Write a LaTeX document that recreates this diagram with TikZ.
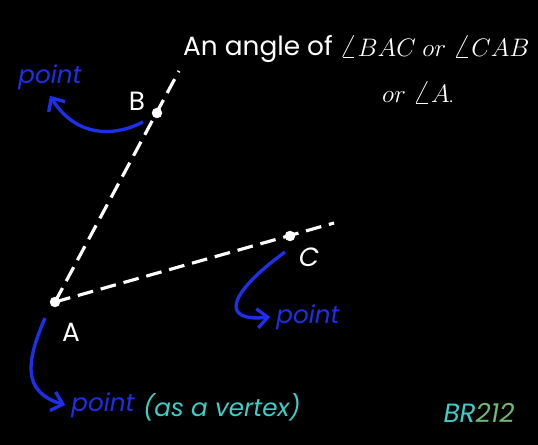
\documentclass[tikz,border=0pt]{standalone}
\usepackage{fontspec}
\setmainfont{Poppins}
\usetikzlibrary{arrows.meta}
\definecolor{pblue}{RGB}{28,48,235}
\definecolor{vcyan}{RGB}{62,205,200}
\definecolor{brgreen}{RGB}{112,186,112}
\newcommand{\bigang}{\raisebox{-0.05ex}{\scalebox{1.35}{$\angle$}}}
\begin{document}
\begin{tikzpicture}[x=0.02cm,y=-0.02cm]
      \fill[black] (0,0) rectangle (538,445);
      \tikzstyle{dot} = [draw=white, fill=white, circle, inner sep=0pt, minimum size=5.5pt]
      \tikzstyle{ray} = [white, line width=1.8pt, dash pattern=on 9pt off 4.5pt]
      \tikzstyle{pointer} = [pblue, line width=1.9pt, -{Straight Barb[length=6pt,width=11pt]}]
      \tikzstyle{lbl} = [white, font=\fontsize{15}{17}\selectfont]
      \tikzstyle{note} = [pblue, font=\fontsize{14}{16}\selectfont\itshape]

      % the two arms and their points
      \coordinate (Bend) at (179,71);
      \coordinate (Cend) at (334,223);
      \path[ray] (55,302) edge (Bend) (55,302) edge (Cend);
      \node[dot](A) at (55,302) {};
      \node[dot](B) at (157,113) {};
      \node[dot](C) at (290,236) {};

      \node[lbl](Blabel) at (137,101) {B};
      \node[lbl](Clabel) at (309,257) {\itshape C};
      \node[lbl](Alabel) at (71,332) {A};

      % heading
      \node[white, anchor=base west, font=\fontsize{15}{18}\selectfont](head) at (177,56) {An angle of};
      \node[white, anchor=base west, font=\fontsize{14.2}{17}\selectfont](names) at (333,57) {$\bigang BAC\ or\ \bigang CAB$};
      \node[white, anchor=base west, font=\fontsize{14.2}{17}\selectfont](short) at (376,103) {$or\ \bigang A$\scalebox{0.6}{.}};

      % pointers
      \node[note](Bnote) at (50,77) {point};
      \node[note](Cnote) at (308,317) {point};
      \node[note](Anote) at (103,405) {point};
      \node[vcyan, font=\fontsize{14}{16}\selectfont\itshape, anchor=west](vertex) at (137,407) {(as a vertex)};
      \coordinate (Bfrom) at (143,122);
      \coordinate (Cfrom) at (285,252);
      \coordinate (Afrom) at (45,318);
      \path[pointer]
      (Bfrom) edge[to path={.. controls (112,138) and (75,136) .. (\tikztotarget)}] (Bnote.south);
      \path[pointer]
      (Cfrom) edge[to path={.. controls (225,296) and (222,322) .. (\tikztotarget)}] (Cnote.west);
      \path[pointer]
      (Afrom) edge[to path={.. controls (26,362) and (22,392) .. (\tikztotarget)}] (Anote.west);

      \node[font=\fontsize{15}{18}\selectfont\itshape](brand) at (479,413) {\textcolor{vcyan}{BR}\textcolor{brgreen}{212}};
    \end{tikzpicture}
\end{document}
